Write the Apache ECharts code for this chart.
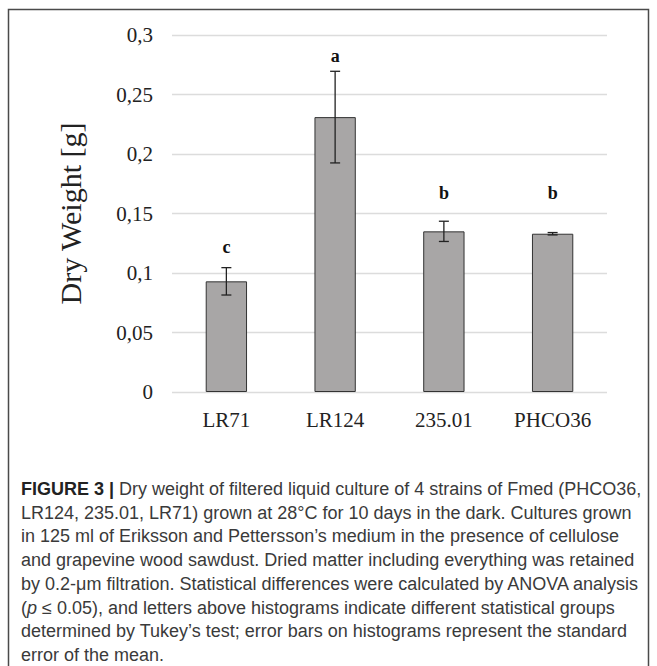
<!DOCTYPE html>
<html>
<head>
<meta charset="utf-8">
<script src="https://cdn.jsdelivr.net/npm/echarts@6/dist/echarts.min.js"></script>
<style>
  html, body { margin: 0; padding: 0; background: #fff; }
  #chart { width: 657px; height: 666px; }
</style>
</head>
<body>
<div id="chart"></div>
<script>
// ---- data ----
const categories = ['LR71', 'LR124', '235.01', 'PHCO36'];
const meanWeight = [0.093, 0.231, 0.135, 0.133];
const stdError = [0.0115, 0.0385, 0.0085, 0.001];
const groupLetters = ['c', 'a', 'b', 'b'];
const letterLevels = [0.122, 0.282, 0.167, 0.167];
const yTicks = [0, 0.05, 0.1, 0.15, 0.2, 0.25, 0.3];
const yTickLabels = ['0', '0,05', '0,1', '0,15', '0,2', '0,25', '0,3'];
const yTitle = 'Dry Weight [g]';
const captionLines = [
  [['FIGURE 3 | ', true], ['Dry weight of filtered liquid culture of 4 strains of Fmed (PHCO36,', false]],
  [['LR124, 235.01, LR71) grown at 28°C for 10 days in the dark. Cultures grown', false]],
  [['in 125 ml of Eriksson and Pettersson\u2019s medium in the presence of cellulose', false]],
  [['and grapevine wood sawdust. Dried matter including everything was retained', false]],
  [['by 0.2-\u03bcm filtration. Statistical differences were calculated by ANOVA analysis', false]],
  [['(', false], ['p', 'i'], [' \u2264 0.05), and letters above histograms indicate different statistical groups', false]],
  [['determined by Tukey\u2019s test; error bars on histograms represent the standard', false]],
  [['error of the mean.', false]]
];

const chart = echarts.init(document.getElementById('chart'), null, { renderer: 'svg' });
const serif = '"Liberation Serif", "Times New Roman", serif';
const capFont = '"Liberation Sans", Arial, sans-serif';

const graphics = [
  { type: 'rect', shape: { x: 8.5, y: 9.5, width: 640, height: 670 }, style: { fill: 'none', stroke: '#4a4a4a', lineWidth: 1.5 }, silent: true }
];
captionLines.forEach((line, i) => {
  const rich = {
    b: { fontFamily: capFont, fontWeight: 'bold', fontSize: 18, fill: '#222' },
    n: { fontFamily: capFont, fontSize: 18, fill: '#3a3a3a' },
    i: { fontFamily: capFont, fontStyle: 'italic', fontSize: 18, fill: '#3a3a3a' }
  };
  const text = line.map(([t, st]) => '{' + (st === true ? 'b' : (st === 'i' ? 'i' : 'n')) + '|' + t + '}').join('');
  graphics.push({
    type: 'text', left: 21, top: Math.round(480 + i * 23.7),
    style: { text: text, rich: rich, fontFamily: capFont, fontSize: 18 }
  });
});

chart.setOption({
  animation: false,
  backgroundColor: '#fff',
  grid: { left: 172, right: 50, top: 35, bottom: 274, containLabel: false },
  xAxis: {
    type: 'category', data: categories,
    axisLine: { show: false }, axisTick: { show: false },
    axisLabel: { fontFamily: serif, fontSize: 21, color: '#222', margin: 17 }
  },
  yAxis: {
    type: 'value', min: 0, max: 0.3, interval: 0.05,
    name: yTitle, nameLocation: 'middle', nameGap: 87, nameRotate: 90,
    nameTextStyle: { fontFamily: serif, fontSize: 30, color: '#222' },
    axisLine: { show: false }, axisTick: { show: false },
    axisLabel: {
      fontFamily: serif, fontSize: 21, color: '#222', margin: 19,
      formatter: v => { const i = yTicks.findIndex(t => Math.abs(t - v) < 1e-9); return i >= 0 ? yTickLabels[i] : ''; }
    },
    splitLine: { lineStyle: { color: '#dcdcdc', width: 1.3 } }
  },
  graphic: graphics,
  series: [
    {
      type: 'bar', data: meanWeight, barWidth: '38%',
      itemStyle: { color: '#a8a6a6', borderColor: '#333', borderWidth: 1 }
    },
    {
      type: 'custom',
      data: categories.map((c, i) => [i, meanWeight[i] - stdError[i], meanWeight[i] + stdError[i]]),
      encode: { x: 0, y: [1, 2] },
      renderItem: (params, api) => {
        const x = api.value(0);
        const lo = api.coord([x, api.value(1)]);
        const hi = api.coord([x, api.value(2)]);
        const half = 5;
        const st = { stroke: '#222', lineWidth: 1.3 };
        return {
          type: 'group', children: [
            { type: 'line', shape: { x1: lo[0], y1: lo[1], x2: hi[0], y2: hi[1] }, style: st },
            { type: 'line', shape: { x1: lo[0] - half, y1: lo[1], x2: lo[0] + half, y2: lo[1] }, style: st },
            { type: 'line', shape: { x1: hi[0] - half, y1: hi[1], x2: hi[0] + half, y2: hi[1] }, style: st }
          ]
        };
      },
      z: 5
    },
    {
      type: 'custom',
      data: categories.map((c, i) => [i, letterLevels[i], groupLetters[i]]),
      encode: { x: 0, y: 1 },
      renderItem: (params, api) => {
        const p = api.coord([api.value(0), api.value(1)]);
        return {
          type: 'text', x: p[0], y: p[1],
          style: { text: groupLetters[params.dataIndex], fontFamily: serif, fontWeight: 'bold', fontSize: 18, fill: '#111', align: 'center', verticalAlign: 'middle' }
        };
      },
      z: 6
    }
  ]
});
</script>
</body>
</html>
